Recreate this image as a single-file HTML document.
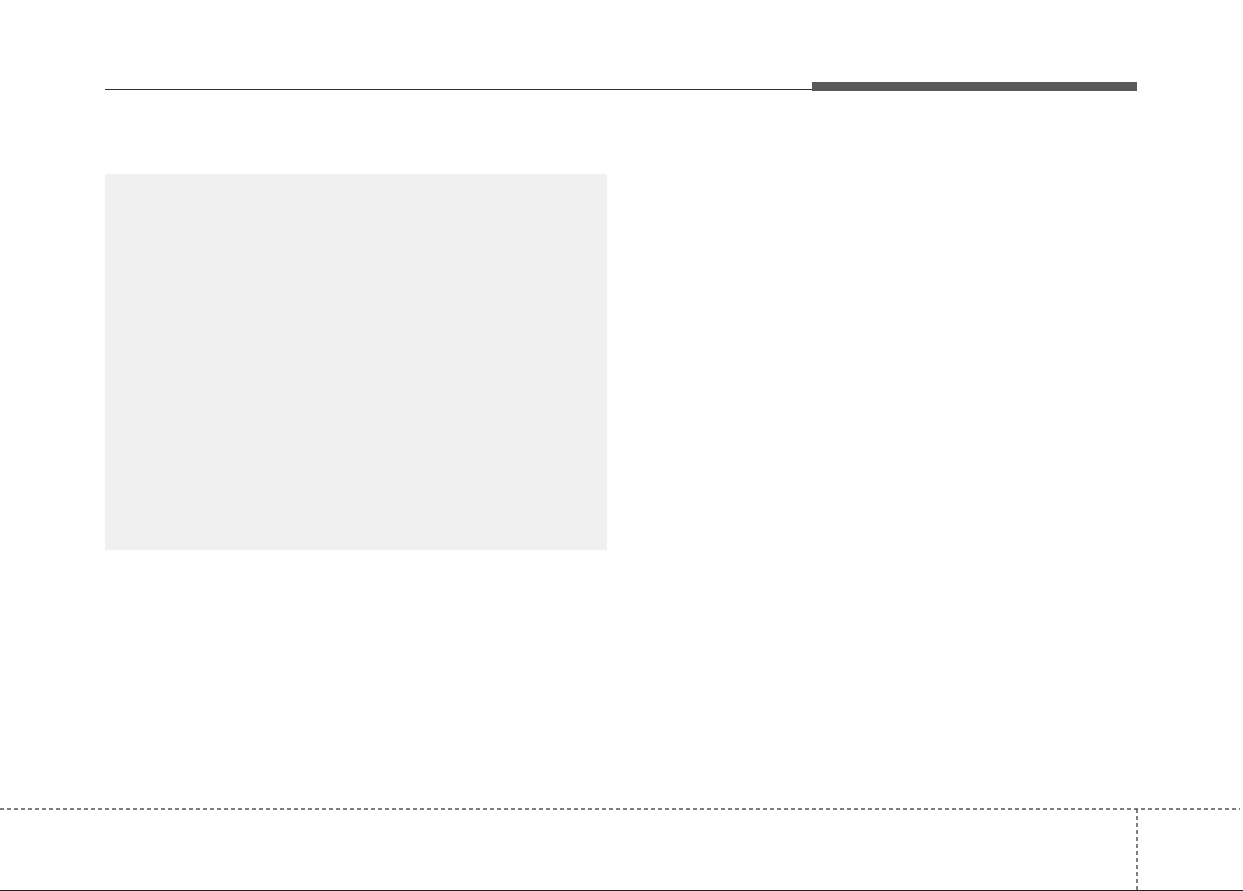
<!DOCTYPE html>
<html><head><meta charset="utf-8"><style>
html,body{margin:0;padding:0;background:#fff;}
body{width:1243px;height:891px;position:relative;overflow:hidden;font-family:"Liberation Sans",sans-serif;}
.a{position:absolute;}
</style></head><body>
<div class="a" style="left:105px;top:89px;width:707px;height:1px;background:#333;"></div>
<div class="a" style="left:812px;top:82px;width:325px;height:9px;background:#58595b;"></div>
<div class="a" style="left:105px;top:174px;width:502px;height:376px;background:#f0f0f0;"></div>
<svg class="a" style="left:0;top:0" width="1243" height="891">
<line x1="0" y1="809" x2="1240" y2="809" stroke="#555" stroke-width="1.5" stroke-dasharray="4,3"/>
<line x1="1137" y1="809" x2="1137" y2="891" stroke="#555" stroke-width="1.5" stroke-dasharray="4,3"/>
<line x1="0" y1="890.5" x2="1243" y2="890.5" stroke="#222" stroke-width="1"/>
</svg>
</body></html>
